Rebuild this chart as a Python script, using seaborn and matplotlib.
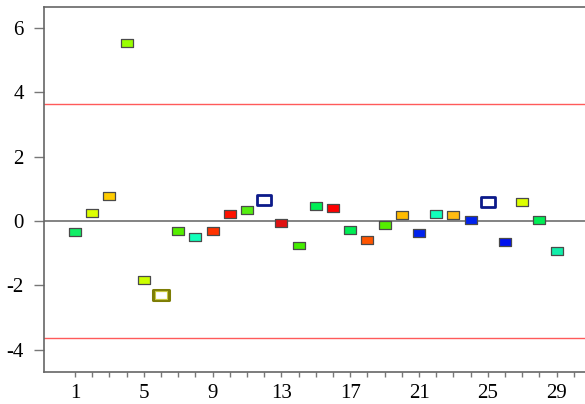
import matplotlib
matplotlib.use("Agg")
import matplotlib.pyplot as plt
from matplotlib.path import Path
import numpy as np
import pandas as pd
import seaborn as sns

# Sample index and standardized residual per sample
samples = list(range(1, 30))
values = [-0.34, 0.24, 0.78, 5.53, -1.83, -2.30, -0.30, -0.50, -0.31, 0.21,
          0.35, 0.65, -0.06, -0.76, 0.47, 0.40, -0.27, -0.60, -0.13, 0.19,
          -0.37, 0.21, 0.19, 0.02, 0.59, -0.65, 0.59, 0.04, -0.93]
fill_colors = ["#11ee66", "#ddff00", "#ffcc00", "#99ff00", "#ccff00", "#ffffff",
               "#55ee00", "#11ffbb", "#ff3300", "#ff1100", "#55ee11", "#ffffff",
               "#e01010", "#44ee00", "#00ee55", "#ff0000", "#00ee55", "#ff5500",
               "#55ee00", "#ffbb00", "#0022ee", "#11ffbb", "#ffbb11", "#0022ee",
               "#ffffff", "#0011ee", "#ddff00", "#00ee55", "#11eeaa"]
hollow_navy = [12, 25]
hollow_olive = [6]
control_limit = 3.64
x_ticks = [1, 5, 9, 13, 17, 21, 25, 29]
y_ticks = [-4, -2, 0, 2, 4, 6]

sns.set_theme(style="ticks")
plt.rcParams["font.family"] = ["Liberation Serif", "DejaVu Serif"]

df = pd.DataFrame({"sample": samples, "value": values, "color": fill_colors})

fig = plt.figure(figsize=(5.85, 4.04), dpi=100)
ax = fig.add_axes([44 / 585, 1 - 372 / 404, 1 - 44 / 585, (372 - 7) / 404])

# rectangular marker, 3:2 aspect
rect = Path([(-1.5, -1.0), (1.5, -1.0), (1.5, 1.0), (-1.5, 1.0), (-1.5, -1.0)],
            [Path.MOVETO, Path.LINETO, Path.LINETO, Path.LINETO, Path.CLOSEPOLY])

ax.axhline(0, color="#6e6e6e", lw=1.2, zorder=1)
ax.axhline(control_limit, color="#ff5a5a", lw=1.0, zorder=1)
ax.axhline(-control_limit, color="#ff5a5a", lw=1.0, zorder=1)

hollow_all = hollow_navy + hollow_olive
solid = df[~df["sample"].isin(hollow_all)]
sns.scatterplot(data=solid, x="sample", y="value", hue="sample",
                palette=dict(zip(solid["sample"], solid["color"])),
                marker=rect, s=74, edgecolor="#4a4a4a", linewidth=0.9,
                legend=False, ax=ax, zorder=3)

navy = df[df["sample"].isin(hollow_navy)]
sns.scatterplot(data=navy, x="sample", y="value", color="white",
                marker=rect, s=112, edgecolor="#0c1a8a", linewidth=2.0,
                legend=False, ax=ax, zorder=3)

olive = df[df["sample"].isin(hollow_olive)]
sns.scatterplot(data=olive, x="sample", y="value", color="white",
                marker=rect, s=122, edgecolor="#7d7d05", linewidth=2.2,
                legend=False, ax=ax, zorder=3)
sns.scatterplot(data=olive, x="sample", y="value", color="none",
                marker=rect, s=66, edgecolor="#c8c840", linewidth=0.8,
                legend=False, ax=ax, zorder=4)

ax.set_xlim(-0.8, 30.65)
ax.set_ylim(-4.69, 6.65)
ax.set_xticks(x_ticks)
ax.set_xticks(range(1, 31), minor=True)
ax.set_yticks(y_ticks)
ax.set_xticklabels([str(t) for t in x_ticks])
ax.set_yticklabels([str(t) for t in y_ticks])
ax.set_xlabel("")
ax.set_ylabel("")

for side in ["left", "top", "bottom"]:
    ax.spines[side].set_color("#666666")
    ax.spines[side].set_linewidth(1.2)
ax.spines["right"].set_visible(False)

ax.tick_params(axis="y", which="major", direction="out", length=7.5, width=1.0,
               color="#777777", labelsize=15, pad=7, labelcolor="black")
ax.tick_params(axis="x", which="both", direction="out", length=3.5, width=1.0,
               color="#777777", labelsize=15, pad=5, labelcolor="black")

fig.savefig("out.png", dpi=100)
